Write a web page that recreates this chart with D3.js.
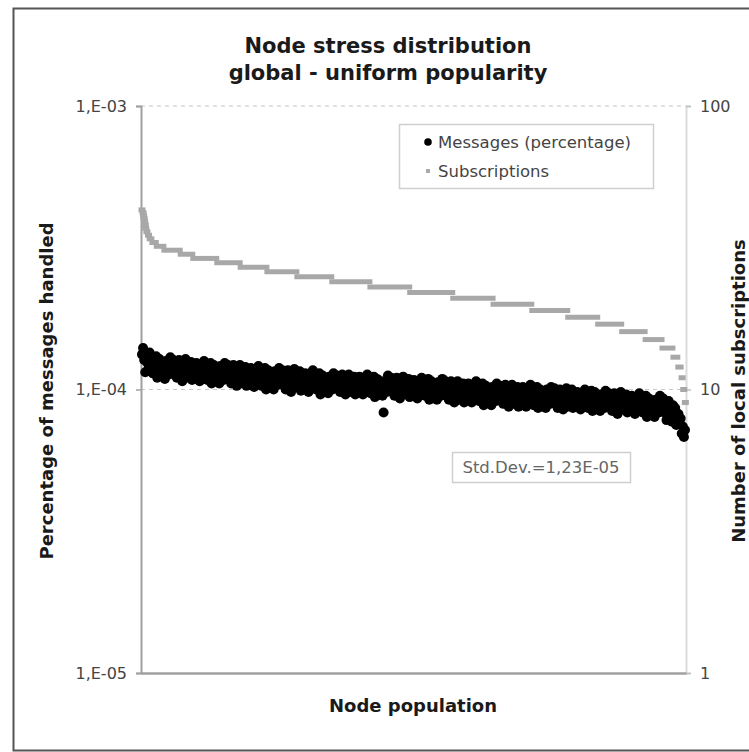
<!DOCTYPE html>
<html>
<head>
<meta charset="utf-8">
<script src="https://cdn.jsdelivr.net/npm/d3@7"></script>
<style>
  html, body { margin: 0; padding: 0; background: #fff; }
  svg { display: block; }
  text { font-family: "DejaVu Sans", Verdana, sans-serif; }
</style>
</head>
<body>
<div id="chart"></div>
<script>
// ---- data ----
const titleLines = ["Node stress distribution", "global - uniform popularity"];
const leftTicks = [1e-5, 1e-4, 1e-3];
const leftTickLabels = ["1,E-05", "1,E-04", "1,E-03"];
const rightTicks = [1, 10, 100];
const rightTickLabels = ["1", "10", "100"];
const seriesNames = ["Messages (percentage)", "Subscriptions"];
const stdDevLabel = "Std.Dev.=1,23E-05";

// Messages handled (units of 1e-4), nodes sorted by number of subscriptions
const messages = [
  1.33, 1.40, 1.27, 1.15, 1.29, 1.24, 1.18, 1.35, 1.22, 1.30,
  1.14, 1.25, 1.19, 1.31, 1.10, 1.22, 1.28, 1.16, 1.23, 1.13,
  1.24, 1.09, 1.26, 1.18, 1.23, 1.13, 1.30, 1.15, 1.19, 1.27,
  1.16, 1.24, 1.10, 1.19, 1.27, 1.13, 1.22, 1.07, 1.25, 1.17,
  1.28, 1.10, 1.17, 1.22, 1.13, 1.25, 1.08, 1.19, 1.11, 1.21,
  1.24, 1.13, 1.18, 1.07, 1.21, 1.16, 1.10, 1.26, 1.15, 1.22,
  1.08, 1.18, 1.13, 1.24, 1.05, 1.16, 1.22, 1.10, 1.17, 1.07,
  1.19, 1.05, 1.21, 1.13, 1.17, 1.08, 1.24, 1.11, 1.14, 1.22,
  1.11, 1.19, 1.05, 1.14, 1.22, 1.08, 1.16, 1.03, 1.20, 1.12,
  1.22, 1.05, 1.12, 1.16, 1.09, 1.20, 1.03, 1.14, 1.06, 1.15,
  1.19, 1.08, 1.13, 1.02, 1.15, 1.11, 1.05, 1.21, 1.10, 1.17,
  1.03, 1.13, 1.08, 1.19, 1.00, 1.11, 1.17, 1.06, 1.12, 1.02,
  1.13, 1.00, 1.16, 1.08, 1.12, 1.04, 1.19, 1.06, 1.09, 1.17,
  1.06, 1.13, 1.00, 1.09, 1.17, 1.04, 1.11, 0.98, 1.14, 1.07,
  1.18, 1.02, 1.08, 1.12, 1.05, 1.16, 0.99, 1.10, 1.03, 1.11,
  1.14, 1.04, 1.09, 0.98, 1.11, 1.07, 1.02, 1.17, 1.06, 1.12,
  1.00, 1.09, 1.04, 1.14, 0.96, 1.07, 1.12, 1.02, 1.08, 0.99,
  1.09, 0.97, 1.11, 1.04, 1.08, 1.00, 1.14, 1.02, 1.05, 1.12,
  1.03, 1.10, 0.98, 1.06, 1.13, 1.01, 1.08, 0.96, 1.11, 1.04,
  1.13, 0.98, 1.04, 1.08, 1.01, 1.11, 0.96, 1.06, 0.99, 1.07,
  1.11, 1.01, 1.06, 0.96, 1.08, 1.04, 0.99, 1.13, 1.03, 1.09,
  0.97, 1.06, 1.01, 1.11, 0.94, 1.04, 1.09, 0.99, 1.05, 0.96,
  1.07, 0.95, 0.83, 1.02, 1.06, 0.98, 1.12, 1.00, 1.03, 1.10,
  1.00, 1.07, 0.95, 1.03, 1.10, 0.98, 1.05, 0.93, 1.08, 1.01,
  1.11, 0.96, 1.02, 1.06, 0.99, 1.09, 0.94, 1.04, 0.97, 1.05,
  1.08, 0.98, 1.03, 0.93, 1.05, 1.01, 0.96, 1.10, 1.00, 1.06,
  0.95, 1.04, 0.99, 1.09, 0.92, 1.02, 1.07, 0.97, 1.03, 0.94,
  1.04, 0.92, 1.06, 0.99, 1.03, 0.95, 1.09, 0.97, 1.00, 1.07,
  0.97, 1.04, 0.92, 1.00, 1.07, 0.95, 1.02, 0.90, 1.05, 0.98,
  1.07, 0.92, 0.98, 1.02, 0.95, 1.05, 0.90, 1.00, 0.93, 1.01,
  1.05, 0.95, 1.00, 0.90, 1.02, 0.98, 0.93, 1.07, 0.97, 1.03,
  0.91, 1.00, 0.95, 1.05, 0.88, 0.98, 1.03, 0.93, 0.99, 0.90,
  1.00, 0.88, 1.02, 0.95, 0.99, 0.91, 1.05, 0.93, 0.96, 1.03,
  0.94, 1.01, 0.89, 0.97, 1.04, 0.92, 0.99, 0.87, 1.02, 0.95,
  1.04, 0.89, 0.95, 0.99, 0.92, 1.02, 0.87, 0.97, 0.90, 0.98,
  1.02, 0.92, 0.97, 0.87, 0.99, 0.95, 0.90, 1.04, 0.94, 1.00,
  0.88, 0.97, 0.92, 1.02, 0.86, 0.95, 1.00, 0.90, 0.96, 0.87,
  0.98, 0.86, 1.00, 0.93, 0.97, 0.89, 1.02, 0.91, 0.94, 1.01,
  0.91, 0.98, 0.86, 0.94, 1.00, 0.89, 0.96, 0.85, 0.99, 0.92,
  1.01, 0.87, 0.93, 0.97, 0.90, 1.00, 0.86, 0.95, 0.88, 0.96,
  0.98, 0.89, 0.94, 0.85, 0.96, 0.92, 0.87, 1.00, 0.91, 0.97,
  0.86, 0.95, 0.90, 0.99, 0.84, 0.93, 0.98, 0.88, 0.94, 0.86,
  0.95, 0.84, 0.96, 0.90, 0.94, 0.86, 0.99, 0.88, 0.91, 0.97,
  0.88, 0.95, 0.84, 0.91, 0.97, 0.86, 0.93, 0.82, 0.95, 0.89,
  0.98, 0.85, 0.90, 0.94, 0.87, 0.96, 0.83, 0.92, 0.86, 0.93,
  0.95, 0.86, 0.91, 0.82, 0.93, 0.89, 0.85, 0.97, 0.88, 0.93,
  0.83, 0.91, 0.86, 0.95, 0.80, 0.89, 0.93, 0.84, 0.90, 0.82,
  0.90, 0.80, 0.92, 0.86, 0.90, 0.83, 0.95, 0.84, 0.87, 0.93,
  0.83, 0.89, 0.78, 0.85, 0.91, 0.81, 0.87, 0.77, 0.88, 0.83,
  0.86, 0.75, 0.80, 0.82, 0.76, 0.79, 0.70, 0.74, 0.68, 0.72
];
const messagesUnit = 1e-4;

// Subscriptions: step levels and node index range (of 1000 nodes)
const totalNodes = 1000;
const subsLevel = [43, 42, 41, 40, 39, 38, 37, 36, 35, 34, 33, 32, 31, 30, 29, 28, 27, 26, 25, 24, 23, 22, 21, 20, 19, 18, 17, 16, 15, 14, 13, 12, 11, 10, 9];
const subsStart = [0, 2, 3, 4, 5, 6, 7, 9, 12, 15, 20, 28, 42, 72, 95, 139, 182, 231, 286, 350, 420, 493, 572, 646, 717, 783, 838, 882, 925, 956, 976, 985, 991, 994, 997];
const subsEnd   = [2, 3, 4, 5, 6, 7, 9, 12, 15, 20, 28, 42, 72, 95, 139, 182, 231, 286, 350, 420, 493, 572, 646, 717, 783, 838, 882, 925, 956, 976, 985, 991, 994, 997, 999];

// ---- layout ----
const W = 749, H = 752;
const plot = { left: 141, right: 686, top: 106, bottom: 673 };

const svg = d3.select("#chart").append("svg").attr("width", W).attr("height", H);

// outer frame
svg.append("rect").attr("x", 13.5).attr("y", 8.5).attr("width", 780).attr("height", 742)
  .attr("fill", "#fff").attr("stroke", "#555").attr("stroke-width", 2);

const yL = d3.scaleLog().domain([1e-5, 1e-3]).range([plot.bottom, plot.top]);
const yR = d3.scaleLog().domain([1, 100]).range([plot.bottom, plot.top]);
const xMsg = d3.scaleLinear().domain([0, messages.length - 1]).range([plot.left + 1, plot.right - 1]);
const xNode = d3.scaleLinear().domain([0, totalNodes]).range([plot.left, plot.right]);

// gridlines
svg.append("g").selectAll("line").data(leftTicks.slice(1)).join("line")
  .attr("x1", plot.left).attr("x2", plot.right)
  .attr("y1", d => yL(d)).attr("y2", d => yL(d))
  .attr("stroke", "#c8c8c8").attr("stroke-width", 1.2).attr("stroke-dasharray", "4,4");

// title
svg.append("g").selectAll("text").data(titleLines).join("text")
  .attr("x", 388).attr("y", (d, i) => 53 + i * 27)
  .attr("text-anchor", "middle").attr("font-size", 21).attr("font-weight", "bold")
  .attr("fill", "#1a1a1a").text(d => d);

// axes
const leftAxis = d3.axisLeft(yL).tickValues(leftTicks).tickFormat((d, i) => leftTickLabels[i]).tickSize(5).tickPadding(9);
const gL = svg.append("g").attr("transform", `translate(${plot.left},0)`).call(leftAxis);
gL.select(".domain").attr("stroke", "#a0a0a0").attr("stroke-width", 2);
gL.selectAll(".tick line").attr("stroke", "#a0a0a0").attr("stroke-width", 1.5);
gL.selectAll(".tick text").attr("font-size", 16).attr("fill", "#444").attr("font-family", "DejaVu Sans, sans-serif");

const rightAxis = d3.axisRight(yR).tickValues(rightTicks).tickFormat((d, i) => rightTickLabels[i]).tickSize(5).tickPadding(9);
const gR = svg.append("g").attr("transform", `translate(${plot.right},0)`).call(rightAxis);
gR.select(".domain").attr("stroke", "#dcdcdc").attr("stroke-width", 2);
gR.selectAll(".tick line").attr("stroke", "#c0c0c0").attr("stroke-width", 1.5);
gR.selectAll(".tick text").attr("font-size", 16).attr("fill", "#444").attr("font-family", "DejaVu Sans, sans-serif");

const bottomAxis = d3.axisBottom(xNode).tickValues([]).tickSizeOuter(0);
const gB = svg.append("g").attr("transform", `translate(0,${plot.bottom})`).call(bottomAxis);
gB.select(".domain").attr("stroke", "#a0a0a0").attr("stroke-width", 2.5);

// subscriptions (gray steps)
svg.append("g").selectAll("line").data(subsLevel).join("line")
  .attr("x1", (d, i) => xNode(subsStart[i]))
  .attr("x2", (d, i) => Math.max(xNode(subsEnd[i]), xNode(subsStart[i]) + 2))
  .attr("y1", d => yR(d)).attr("y2", d => yR(d))
  .attr("stroke", "#a8a8a8").attr("stroke-width", 5).attr("stroke-linecap", "square");

// messages (black dots)
svg.append("g").selectAll("circle").data(messages).join("circle")
  .attr("cx", (d, i) => xMsg(i)).attr("cy", d => yL(d * messagesUnit))
  .attr("r", 5).attr("fill", "#000");

// legend
const lg = svg.append("g");
lg.append("rect").attr("x", 399.5).attr("y", 124.5).attr("width", 254).attr("height", 64)
  .attr("fill", "#fff").attr("stroke", "#cfcfcf").attr("stroke-width", 1.5);
lg.append("circle").attr("cx", 428).attr("cy", 142).attr("r", 3.8).attr("fill", "#000");
lg.append("rect").attr("x", 426).attr("y", 169).attr("width", 4).attr("height", 4).attr("fill", "#aaa");
lg.selectAll("text").data(seriesNames).join("text")
  .attr("x", 438).attr("y", (d, i) => 142 + i * 29).attr("dy", "0.35em")
  .attr("font-size", 16.5).attr("fill", "#444").text(d => d);

// std dev box
const sd = svg.append("g");
sd.append("rect").attr("x", 452.5).attr("y", 452.5).attr("width", 178).attr("height", 30)
  .attr("fill", "#fff").attr("stroke", "#cfcfcf").attr("stroke-width", 1.5);
sd.append("text").attr("x", 541).attr("y", 467).attr("dy", "0.35em").attr("text-anchor", "middle")
  .attr("font-size", 16.5).attr("fill", "#666").text(stdDevLabel);

// axis titles
svg.append("text").attr("transform", "translate(47,391) rotate(-90)").attr("dy", "0.35em")
  .attr("text-anchor", "middle").attr("font-size", 18).attr("font-weight", "bold").attr("fill", "#1a1a1a")
  .text("Percentage of messages handled");
svg.append("text").attr("transform", "translate(739,391) rotate(-90)").attr("dy", "0.35em")
  .attr("text-anchor", "middle").attr("font-size", 18).attr("font-weight", "bold").attr("fill", "#1a1a1a")
  .text("Number of local subscriptions");
svg.append("text").attr("x", 413).attr("y", 706).attr("dy", "0.35em")
  .attr("text-anchor", "middle").attr("font-size", 18).attr("font-weight", "bold").attr("fill", "#1a1a1a")
  .text("Node population");
</script>
</body>
</html>
